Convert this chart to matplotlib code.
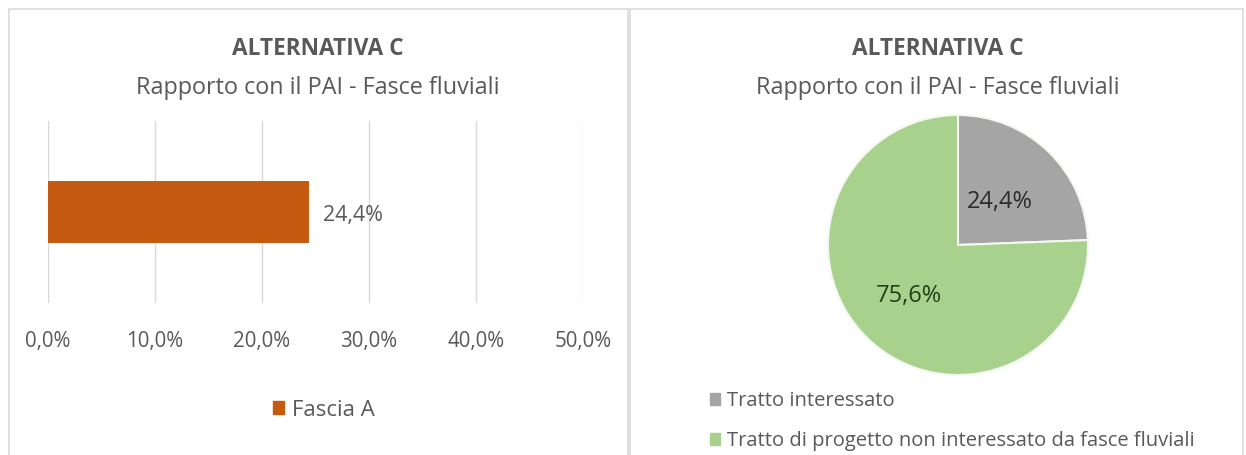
import matplotlib
matplotlib.use("Agg")
import numpy as np
import matplotlib.pyplot as plt
from matplotlib.patches import Patch, Rectangle
from matplotlib.ticker import FuncFormatter

plt.rcParams['font.family'] = ['Open Sans', 'DejaVu Sans']

# dati
titolo = "ALTERNATIVA C"
sottotitolo = "Rapporto con il PAI - Fasce fluviali"

fasce = ["Fascia A"]
quota_fasce = [0.244]
asse_ticks = [0.0, 0.1, 0.2, 0.3, 0.4, 0.5]

tratti = ["Tratto interessato",
          "Tratto di progetto non interessato da fasce fluviali"]
quota_tratti = [24.4, 75.6]

ARANCIO = '#C55A11'
GRIGIO = '#A5A5A5'
VERDE = '#A9D18E'
TESTO = '#595959'
GRIGLIA = '#D9D9D9'

W, H = 1246, 455
fig = plt.figure(figsize=(W / 100, H / 100), dpi=100)
fig.patch.set_facecolor('white')


def box(x0, y0, x1, y1):
    # converte pixel (origine in alto a sinistra) in frazioni di figura
    return [x0 / W, 1 - y1 / H, (x1 - x0) / W, (y1 - y0) / H]


def pct(v):
    return f"{v * 100:.1f}%".replace('.', ',')


# cornici dei due grafici
for x0, x1 in [(9, 628), (630, 1243)]:
    fig.add_artist(Rectangle((x0 / W, -0.1), (x1 - x0) / W, 1 - 9 / H + 0.1,
                             transform=fig.transFigure, fill=False,
                             edgecolor='#D9D9D9', linewidth=1.2))

# titoli
for cx in [318, 938]:
    fig.text(cx / W, 1 - 49 / H, titolo, ha='center', va='center',
             fontsize=16.3, fontweight='bold', color=TESTO)
    fig.text(cx / W, 1 - 88 / H, sottotitolo, ha='center', va='center',
             fontsize=16.8, color=TESTO)

# --- grafico a barre ---
ax = fig.add_axes(box(48, 121, 583, 303))
bars = ax.barh(fasce, quota_fasce, height=0.345, color=ARANCIO, zorder=3)
ax.set_xlim(0, 0.5)
ax.set_ylim(-0.5, 0.5)
ax.set_xticks(asse_ticks)
ax.xaxis.set_major_formatter(FuncFormatter(lambda v, p: pct(v)))
ax.tick_params(axis='x', length=0, pad=20, labelsize=14.8, labelcolor=TESTO)
ax.set_yticks([])
ax.grid(axis='x', color=GRIGLIA, linewidth=1, zorder=0)
for s in ax.spines.values():
    s.set_visible(False)
for b, v in zip(bars, quota_fasce):
    ax.text(v + 0.013, b.get_y() + b.get_height() / 2 - 0.02, pct(v),
            va='center', ha='left', fontsize=15.4, color=TESTO)

fig.legend(handles=[Patch(color=ARANCIO, label=fasce[0])],
           loc='center', bbox_to_anchor=(324 / W, 1 - 410 / H),
           frameon=False, fontsize=16, labelcolor=TESTO,
           handlelength=0.5, handleheight=0.5, handletextpad=0.35)

# --- grafico a torta ---
r = 130
axp = fig.add_axes(box(958 - r, 245 - r, 958 + r, 245 + r))
wedges, _ = axp.pie(
    quota_tratti, colors=[GRIGIO, VERDE], startangle=90, counterclock=False,
    wedgeprops=dict(edgecolor='#F4F8F0', linewidth=1.5))
axp.set_xlim(-1, 1)
axp.set_ylim(-1, 1)
axp.set_aspect('equal')

# etichette percentuali lungo la bisettrice di ogni spicchio
for w, q, dist, col in zip(wedges, quota_tratti, [0.46, 0.54], ['#2b2b2b', '#233f16']):
    ang = np.deg2rad((w.theta1 + w.theta2) / 2)
    axp.text(dist * np.cos(ang), dist * np.sin(ang), f"{q:.1f}%".replace('.', ','),
             ha='center', va='center', fontsize=17, color=col)

fig.legend(handles=[Patch(color=c, label=t) for c, t in zip([GRIGIO, VERDE], tratti)],
           loc='upper left', bbox_to_anchor=(710 / W, 1 - 391 / H),
           frameon=False, fontsize=14.5, labelcolor=TESTO,
           handlelength=0.5, handleheight=0.5, handletextpad=0.35,
           labelspacing=1.0, borderaxespad=0, borderpad=0)

fig.savefig("out.png", dpi=100, facecolor='white')
